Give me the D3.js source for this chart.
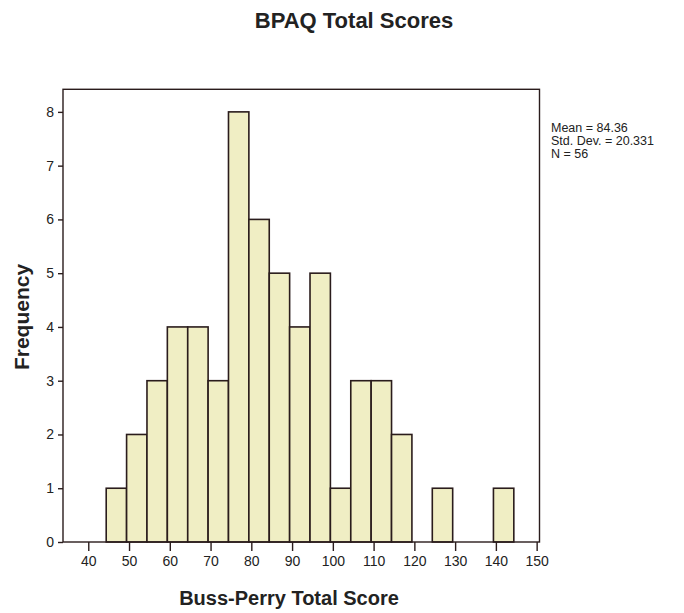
<!DOCTYPE html>
<html><head><meta charset="utf-8">
<script src="https://cdn.jsdelivr.net/npm/d3@7"></script>
<style>body{margin:0;background:#fff;}svg{display:block;font-family:"Liberation Sans",Arial,sans-serif;}</style>
</head><body>
<script>
const binStarts = [44.4,49.4,54.4,59.4,64.4,69.4,74.4,79.4,84.4,89.4,94.4,99.4,104.4,109.4,114.4,119.4,124.4,129.4,134.4,139.4];
const counts    = [1,2,3,4,4,3,8,6,5,4,5,1,3,3,2,0,1,0,0,1];
const binWidth = 5;
const xTicks = [40,50,60,70,80,90,100,110,120,130,140,150];
const yTicks = [0,1,2,3,4,5,6,7,8];
const statsLines = ["Mean = 84.36","Std. Dev. = 20.331","N = 56"];

const W=684,H=613;
const L=63,R=539.5,T=89.3,B=542;
const svg=d3.select("body").append("svg").attr("width",W).attr("height",H);
const x=d3.scaleLinear().domain([33.8,150.7]).range([L,R]);
const y=d3.scaleLinear().domain([0,8.42]).range([B,T]);
const ink="#2a1c1c";

// bars
svg.append("g").selectAll("rect").data(binStarts.map((s,i)=>({s,c:counts[i]})).filter(d=>d.c>0))
 .join("rect")
 .attr("x",d=>x(d.s)).attr("width",d=>x(d.s+binWidth)-x(d.s))
 .attr("y",d=>y(d.c)).attr("height",d=>y(0)-y(d.c))
 .attr("fill","#f0eec4").attr("stroke",ink).attr("stroke-width",1.6);

// frame
svg.append("rect").attr("x",L).attr("y",T).attr("width",R-L).attr("height",B-T)
 .attr("fill","none").attr("stroke",ink).attr("stroke-width",1.4);

// axes
const xa=svg.append("g").attr("transform",`translate(0,${B})`)
 .call(d3.axisBottom(x).tickValues(xTicks).tickSize(9).tickPadding(5).tickSizeOuter(0));
const ya=svg.append("g").attr("transform",`translate(${L},0)`)
 .call(d3.axisLeft(y).tickValues(yTicks).tickSize(5).tickPadding(4).tickSizeOuter(0));
[xa,ya].forEach(a=>{
 a.select(".domain").remove();
 a.selectAll("line").attr("stroke",ink).attr("stroke-width",1.4);
 a.selectAll("text").attr("fill","#222").style("font-size","14px").style("font-family","'Liberation Sans',Arial,sans-serif");
});

// titles
svg.append("text").attr("x",354).attr("y",28).attr("text-anchor","middle")
 .style("font-size","22px").style("font-weight","bold").attr("fill","#222").text("BPAQ Total Scores");
svg.append("text").attr("x",289).attr("y",605).attr("text-anchor","middle")
 .style("font-size","20px").style("font-weight","bold").attr("fill","#222").text("Buss-Perry Total Score");
svg.append("text").attr("transform","translate(29,317) rotate(-90)").attr("text-anchor","middle")
 .style("font-size","21px").style("font-weight","bold").attr("fill","#222").text("Frequency");

// stats
svg.append("g").selectAll("text").data(statsLines).join("text")
 .attr("x",551).attr("y",(d,i)=>132+i*13)
 .style("font-size","12.5px").attr("fill","#222").text(d=>d);
</script>
</body></html>
